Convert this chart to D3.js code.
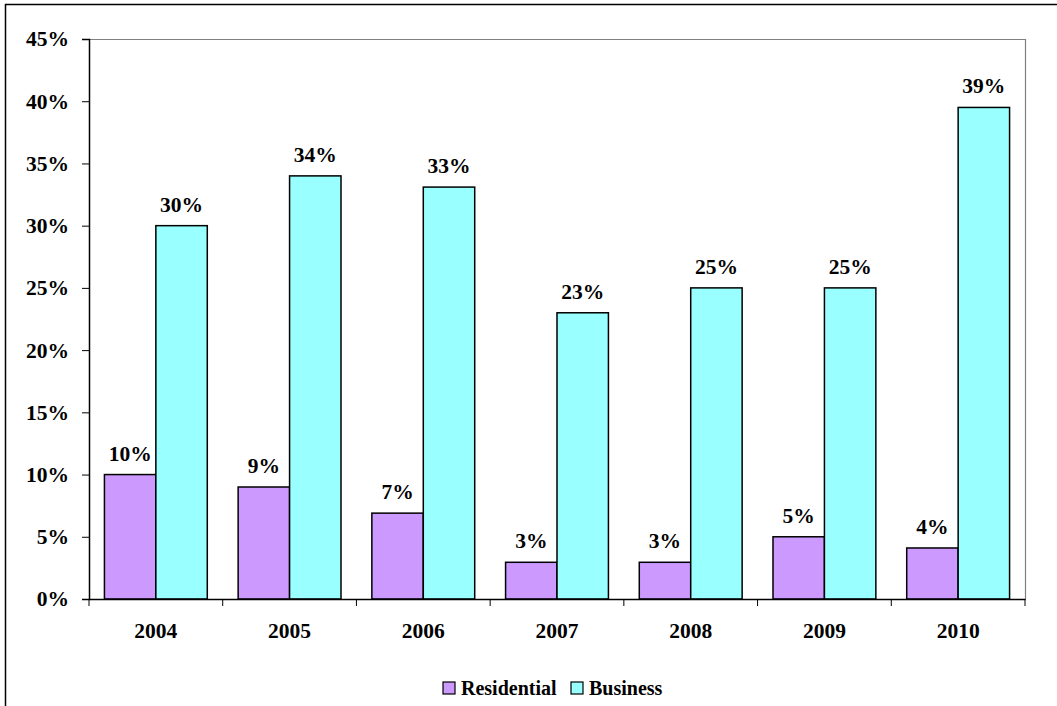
<!DOCTYPE html>
<html lang="en">
<head>
<meta charset="UTF-8">
<title>Residential vs Business</title>
<script src="https://d3js.org/d3.v7.min.js"></script>
<style>
  body { margin: 0; background: #fff; }
  svg text { font-family: "Liberation Serif", "Times New Roman", serif; font-weight: bold; fill: #000; }
</style>
</head>
<body>
<div id="chart"></div>
<script>
// data
const years = ["2004", "2005", "2006", "2007", "2008", "2009", "2010"];
const residential = [10, 9, 6.9, 2.95, 2.95, 5, 4.1];
const business = [30, 34, 33.1, 23, 25, 25, 39.5];
const resLabels = ["10%", "9%", "7%", "3%", "3%", "5%", "4%"];
const busLabels = ["30%", "34%", "33%", "23%", "25%", "25%", "39%"];
const yTicks = [0, 5, 10, 15, 20, 25, 30, 35, 40, 45];
const seriesNames = ["Residential", "Business"];
const colors = ["#CC99FF", "#99FFFF"];

const W = 1057, H = 706;
const plot = { left: 89, top: 39, right: 1025, bottom: 599 };

const svg = d3.select("#chart").append("svg")
  .attr("width", W).attr("height", H);

// outer chart border (runs off the right/bottom edges)
svg.append("rect")
  .attr("x", 5.5).attr("y", 4.5)
  .attr("width", W + 10).attr("height", H + 10)
  .attr("fill", "#fff").attr("stroke", "#000").attr("stroke-width", 1.5);

const x = d3.scaleBand().domain(years).range([plot.left, plot.right]);
const sub = d3.scaleBand().domain(seriesNames).range([0, x.bandwidth()]).paddingOuter(0.3);
const y = d3.scaleLinear().domain([0, 45]).range([plot.bottom, plot.top]);

// plot border top/right (grey)
svg.append("path")
  .attr("d", `M${plot.left},${plot.top + 0.5}H${plot.right + 0.5}V${plot.bottom}`)
  .attr("fill", "none").attr("stroke", "#808080").attr("stroke-width", 1.2);

const rows = years.map((yr, i) => ({
  year: yr,
  vals: [
    { s: seriesNames[0], v: residential[i], lab: resLabels[i], c: colors[0] },
    { s: seriesNames[1], v: business[i], lab: busLabels[i], c: colors[1] }
  ]
}));

const groups = svg.selectAll("g.year").data(rows).enter().append("g")
  .attr("class", "year")
  .attr("transform", d => `translate(${x(d.year)},0)`);

groups.selectAll("rect").data(d => d.vals).enter().append("rect")
  .attr("x", d => sub(d.s))
  .attr("y", d => y(d.v))
  .attr("width", sub.bandwidth())
  .attr("height", d => y(0) - y(d.v))
  .attr("fill", d => d.c)
  .attr("stroke", "#000").attr("stroke-width", 1.5);

groups.selectAll("text.lab").data(d => d.vals).enter().append("text")
  .attr("class", "lab")
  .attr("x", d => sub(d.s) + sub.bandwidth() / 2)
  .attr("y", d => y(d.v) - 14)
  .attr("text-anchor", "middle")
  .style("font-size", "21.5px")
  .text(d => d.lab);

// y axis
const yAxis = svg.append("g")
  .attr("transform", `translate(${plot.left},0)`)
  .call(d3.axisLeft(y).tickValues(yTicks).tickFormat(d => d + "%").tickSize(7).tickPadding(13));
yAxis.selectAll("text").style("font-size", "21.5px");

// x axis with ticks at category boundaries
const xAxis = svg.append("g")
  .attr("transform", `translate(0,${plot.bottom})`)
  .call(d3.axisBottom(x).tickSize(0).tickPadding(24));
xAxis.selectAll("text").style("font-size", "21.5px");
xAxis.selectAll("line.sep").data(years.concat(["end"])).enter().append("line")
  .attr("class", "sep")
  .attr("x1", (d, i) => plot.left + i * x.step())
  .attr("x2", (d, i) => plot.left + i * x.step())
  .attr("y1", 0).attr("y2", 7)
  .attr("stroke", "#000");

svg.selectAll(".domain").attr("stroke", "#000").attr("stroke-width", 1.5);
svg.selectAll(".tick line").attr("stroke", "#000");

// legend
const legend = svg.append("g").attr("transform", "translate(443,682)");
const items = [{ n: seriesNames[0], c: colors[0], x: 0 }, { n: seriesNames[1], c: colors[1], x: 128 }];
const li = legend.selectAll("g").data(items).enter().append("g")
  .attr("transform", d => `translate(${d.x},0)`);
li.append("rect").attr("width", 12).attr("height", 12)
  .attr("fill", d => d.c).attr("stroke", "#000").attr("stroke-width", 1.2);
li.append("text").attr("x", 18).attr("y", 12.5)
  .style("font-size", "20px").text(d => d.n);
</script>
</body>
</html>
